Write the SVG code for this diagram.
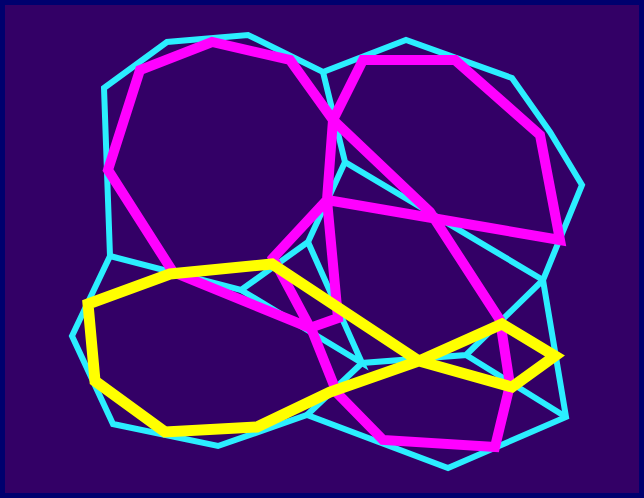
<svg xmlns="http://www.w3.org/2000/svg" width="644" height="498" viewBox="0 0 644 498">
  <style>
    .cy { fill: none; stroke: #2BEEFF; stroke-width: 6; stroke-linejoin: miter; stroke-linecap: butt; }
    .mg { fill: none; stroke: #FF00FF; stroke-width: 10; stroke-linejoin: miter; stroke-miterlimit: 4; }
    .yl { fill: none; stroke: #FFFF00; stroke-width: 11; stroke-linejoin: miter; stroke-miterlimit: 4; }
  </style>
  <rect x="2.5" y="2.5" width="639" height="493" fill="#330066" stroke="#00006E" stroke-width="5"/>
  <g id="cyan-network">
    <path class="cy" d="M104,88 L167,42 L248,35 L323,72 L406,40 L512,78 L550,132 L582,185 L543,280 L566,417 L448,468 L307,415 L218,446 L113,424 L72,336 L110,256 Z"/>
    <path class="cy" d="M323,72 L345,162 L543,280"/>
    <path class="cy" d="M345,162 L308,242 L241,290 L110,256"/>
    <path class="cy" d="M308,242 L362,363 L241,290"/>
    <path class="cy" d="M307,415 L362,363 L466,355 L543,280"/>
    <path class="cy" d="M466,355 L566,417"/>
  </g>
  <g id="magenta-loop">
    <path class="mg" d="M108,170 L140,70 L212,42 L290,60 L333,120 L430,212 L500,320 L510,385 L495,447 L383,440 L337,393 L313,333 L273,258 L327,200 L560,240 L540,135 L455,60 L363,60 L333,120 L327,200 L338,318 L310,328 L173,272 Z"/>
  </g>
  <g id="yellow-loop">
    <path class="yl" d="M88,304 L170,274 L272,264 L419,361 L512,387 L555,356 L502,324 L419,361 L330,392 L257,427 L165,432 L95,381 Z"/>
  </g>
</svg>
